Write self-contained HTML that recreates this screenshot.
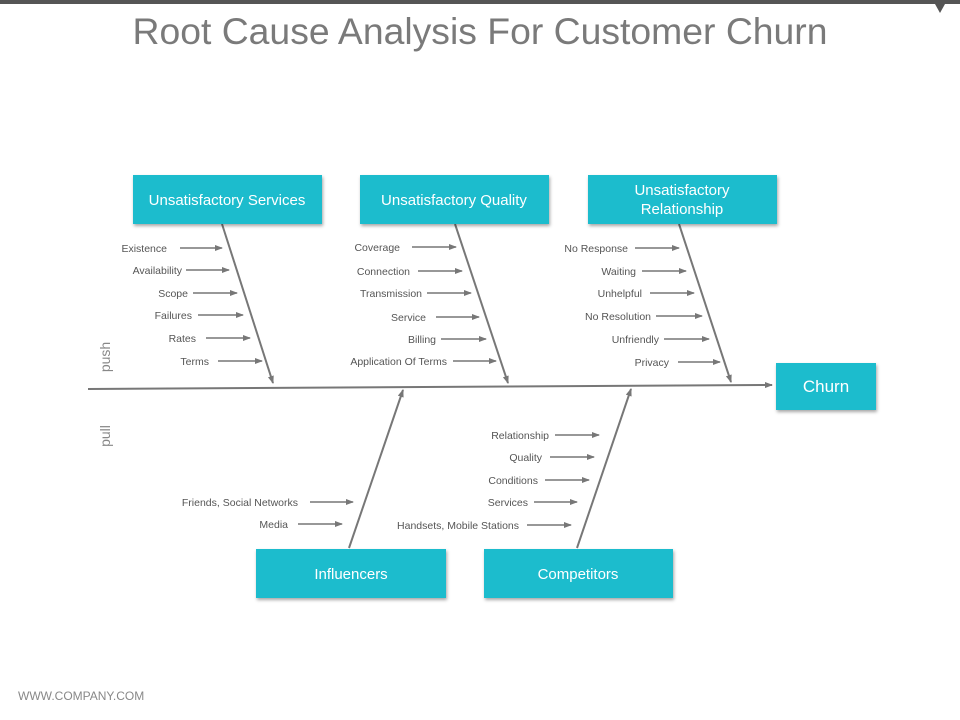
<!DOCTYPE html>
<html><head><meta charset="utf-8"><style>
html,body{margin:0;padding:0;background:#fff;}
svg{display:block;font-family:"Liberation Sans",Arial,sans-serif;}
.s{font-size:10.5px;fill:#555;}
.b{font-size:15px;fill:#fff;}
</style></head><body>
<svg width="960" height="720" viewBox="0 0 960 720" xmlns="http://www.w3.org/2000/svg">
<defs>
<marker id="a" markerWidth="8" markerHeight="6" refX="7" refY="3" orient="auto" markerUnits="userSpaceOnUse"><path d="M0,0 L8,3 L0,6 z" fill="#777"/></marker>
<filter id="sh" x="-10%" y="-10%" width="130%" height="140%"><feDropShadow dx="1" dy="2" stdDeviation="1.5" flood-color="#000" flood-opacity="0.35"/></filter>
</defs>
<rect x="0" y="0" width="960" height="4" fill="#555"/>
<path d="M935,4 L945,4 L940,13 z" fill="#555"/>
<text x="480" y="44" text-anchor="middle" font-size="37" fill="#7a7a7a" textLength="695" lengthAdjust="spacingAndGlyphs">Root Cause Analysis For Customer Churn</text>

<g stroke="#777" stroke-width="2" fill="none" marker-end="url(#a)">
<line x1="88" y1="389" x2="772" y2="385"/>
<line x1="222" y1="224" x2="273" y2="383"/>
<line x1="455" y1="224" x2="508" y2="383"/>
<line x1="679" y1="224" x2="731" y2="382"/>
<line x1="349" y1="548" x2="403" y2="390"/>
<line x1="577" y1="548" x2="631" y2="389"/>
</g>
<g stroke="#777" stroke-width="1.5" fill="none" marker-end="url(#a)">
<line x1="180" y1="248" x2="222" y2="248"/>
<line x1="186" y1="270" x2="229" y2="270"/>
<line x1="193" y1="293" x2="237" y2="293"/>
<line x1="198" y1="315" x2="243" y2="315"/>
<line x1="206" y1="338" x2="250" y2="338"/>
<line x1="218" y1="361" x2="262" y2="361"/>
<line x1="412" y1="247" x2="456" y2="247"/>
<line x1="418" y1="271" x2="462" y2="271"/>
<line x1="427" y1="293" x2="471" y2="293"/>
<line x1="436" y1="317" x2="479" y2="317"/>
<line x1="441" y1="339" x2="486" y2="339"/>
<line x1="453" y1="361" x2="496" y2="361"/>
<line x1="635" y1="248" x2="679" y2="248"/>
<line x1="642" y1="271" x2="686" y2="271"/>
<line x1="650" y1="293" x2="694" y2="293"/>
<line x1="656" y1="316" x2="702" y2="316"/>
<line x1="664" y1="339" x2="709" y2="339"/>
<line x1="678" y1="362" x2="720" y2="362"/>
<line x1="310" y1="502" x2="353" y2="502"/>
<line x1="298" y1="524" x2="342" y2="524"/>
<line x1="555" y1="435" x2="599" y2="435"/>
<line x1="550" y1="457" x2="594" y2="457"/>
<line x1="545" y1="480" x2="589" y2="480"/>
<line x1="534" y1="502" x2="577" y2="502"/>
<line x1="527" y1="525" x2="571" y2="525"/>
</g>
<g class="s" text-anchor="end">
<text x="167" y="252">Existence</text>
<text x="182" y="274">Availability</text>
<text x="188" y="297">Scope</text>
<text x="192" y="319">Failures</text>
<text x="196" y="342">Rates</text>
<text x="209" y="365">Terms</text>
<text x="400" y="251">Coverage</text>
<text x="410" y="275">Connection</text>
<text x="422" y="297">Transmission</text>
<text x="426" y="321">Service</text>
<text x="436" y="343">Billing</text>
<text x="447" y="365">Application Of Terms</text>
<text x="628" y="252">No Response</text>
<text x="636" y="275">Waiting</text>
<text x="642" y="297">Unhelpful</text>
<text x="651" y="320">No Resolution</text>
<text x="659" y="343">Unfriendly</text>
<text x="669" y="366">Privacy</text>
<text x="298" y="506">Friends, Social Networks</text>
<text x="288" y="528">Media</text>
<text x="549" y="439">Relationship</text>
<text x="542" y="461">Quality</text>
<text x="538" y="484">Conditions</text>
<text x="528" y="506">Services</text>
<text x="519" y="529">Handsets, Mobile Stations</text>
</g>
<g fill="#1ebccd" filter="url(#sh)">
<rect x="133" y="175" width="189" height="49"/>
<rect x="360" y="175" width="189" height="49"/>
<rect x="588" y="175" width="189" height="49"/>
<rect x="776" y="363" width="100" height="47"/>
<rect x="256" y="549" width="190" height="49"/>
<rect x="484" y="549" width="189" height="49"/>
</g>
<g class="b" text-anchor="middle">
<text x="227" y="205">Unsatisfactory Services</text>
<text x="454" y="205">Unsatisfactory Quality</text>
<text x="682" y="195">Unsatisfactory</text>
<text x="682" y="214">Relationship</text>
<text x="826" y="392" font-size="17">Churn</text>
<text x="351" y="579">Influencers</text>
<text x="578" y="579">Competitors</text>
</g>
<text transform="translate(110,357) rotate(-90)" text-anchor="middle" font-size="14" fill="#888">push</text>
<text transform="translate(110,436) rotate(-90)" text-anchor="middle" font-size="14" fill="#888">pull</text>
<text x="18" y="700" font-size="12" fill="#888">WWW.COMPANY.COM</text>
</svg>
</body></html>
